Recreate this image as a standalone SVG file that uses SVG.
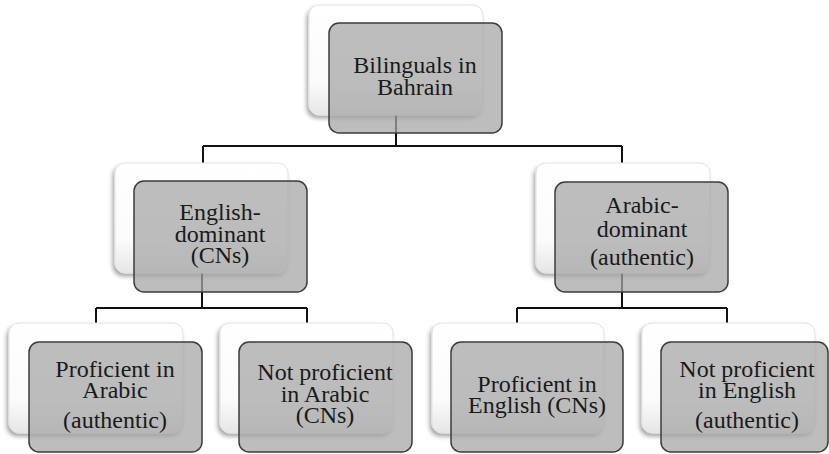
<svg xmlns="http://www.w3.org/2000/svg" width="829" height="454" viewBox="0 0 829 454">
<defs>
<linearGradient id="bg" x1="0" y1="0" x2="0" y2="1">
<stop offset="0" stop-color="#ffffff"/>
<stop offset="0.7" stop-color="#fbfbfb"/>
<stop offset="1" stop-color="#e6e6e6"/>
</linearGradient>
<filter id="sh" x="-10%" y="-10%" width="120%" height="130%">
<feDropShadow dx="-2" dy="3" stdDeviation="2" flood-color="#000" flood-opacity="0.35"/>
</filter>
</defs>
<style>
.back{fill:url(#bg);stroke:#e2e2e2;stroke-width:1;filter:url(#sh)}
.front{fill:#a6a6a6;fill-opacity:0.74;stroke:#3c3c3c;stroke-width:1.5}
.conn{fill:none;stroke:#111;stroke-width:2}
text{font-family:"Liberation Serif","Times New Roman",serif;font-size:24px;fill:#1a1a1a;text-anchor:middle}
</style>
<rect width="829" height="454" fill="#ffffff"/>
<g id="connectors">
<path class="conn" d="M396,115 V146 M203,146 H622 M203,146 V163 M622,146 V163"/>
<path class="conn" d="M202,273 V308 M96,308 H307 M96,308 V323 M307,308 V323"/>
<path class="conn" d="M622,273 V308 M517,308 H727 M517,308 V323 M727,308 V323"/>
</g>
<g id="node-root">
<rect class="back" x="309" y="5" width="174" height="110" rx="10"/>
<rect class="front" x="329" y="23" width="173" height="110" rx="10"/>
<text x="415" y="73">Bilinguals in</text>
<text x="415" y="95">Bahrain</text>
</g>
<g id="node-english-dominant">
<rect class="back" x="115" y="163" width="173" height="110" rx="10"/>
<rect class="front" x="134" y="181" width="173" height="111" rx="10"/>
<text x="220" y="220">English-</text>
<text x="220" y="242">dominant</text>
<text x="220" y="263">(CNs)</text>
</g>
<g id="node-arabic-dominant">
<rect class="back" x="536" y="163" width="174" height="110" rx="10"/>
<rect class="front" x="555" y="182" width="173" height="110" rx="10"/>
<text x="642" y="213">Arabic-</text>
<text x="642" y="237">dominant</text>
<text x="642" y="265">(authentic)</text>
</g>
<g id="node-proficient-arabic">
<rect class="back" x="9" y="323" width="174" height="110" rx="10"/>
<rect class="front" x="29" y="342" width="173" height="110" rx="10"/>
<text x="115" y="377">Proficient in</text>
<text x="115" y="398">Arabic</text>
<text x="115" y="428">(authentic)</text>
</g>
<g id="node-not-proficient-arabic">
<rect class="back" x="220" y="323" width="173" height="110" rx="10"/>
<rect class="front" x="239" y="342" width="173" height="110" rx="10"/>
<text x="325" y="380">Not proficient</text>
<text x="325" y="402">in Arabic</text>
<text x="325" y="423">(CNs)</text>
</g>
<g id="node-proficient-english">
<rect class="back" x="432" y="323" width="172" height="110" rx="10"/>
<rect class="front" x="451" y="342" width="172" height="110" rx="10"/>
<text x="537" y="392">Proficient in</text>
<text x="537" y="413">English (CNs)</text>
</g>
<g id="node-not-proficient-english">
<rect class="back" x="642" y="323" width="173" height="110" rx="10"/>
<rect class="front" x="661" y="342" width="167" height="110" rx="10"/>
<text x="747" y="377">Not proficient</text>
<text x="747" y="398">in English</text>
<text x="747" y="428">(authentic)</text>
</g>
</svg>
